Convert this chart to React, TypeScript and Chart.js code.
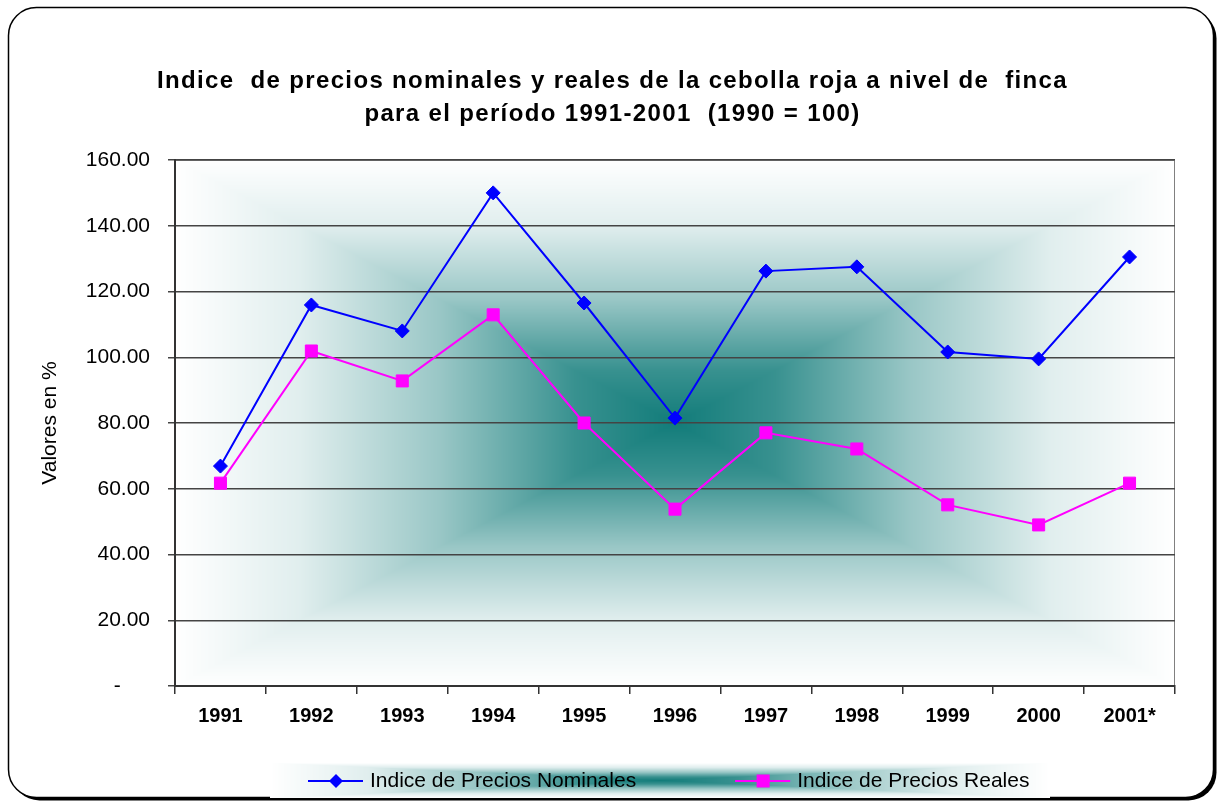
import React, { useEffect, useRef } from 'react';
import { Chart, registerables } from 'chart.js';

Chart.register(...registerables);

const categories = ['1991', '1992', '1993', '1994', '1995', '1996', '1997', '1998', '1999', '2000', '2001*'];
const nominales = [66.9, 115.9, 108.0, 150.0, 116.5, 81.5, 126.2, 127.5, 101.6, 99.5, 130.5];
const reales = [61.7, 101.9, 92.8, 112.9, 80.0, 53.8, 77.0, 72.1, 55.1, 49.0, 61.7];
const seriesNames = ['Indice de Precios Nominales', 'Indice de Precios Reales'];
const titleLines = [
  'Indice  de precios nominales y reales de la cebolla roja a nivel de  finca',
  'para el período 1991-2001  (1990 = 100)',
];
const yAxisTitle = 'Valores en %';
const yMin = 0;
const yMax = 160;
const yStep = 20;

const FONT = '"Liberation Sans", Arial, Helvetica, sans-serif';
const TEAL = [18, 124, 122];
const CURVE: number[][] = [[0, 0], [0.2, 0.16], [0.47, 0.57], [0.75, 0.87], [1, 1]];

function curveAt(t: number) {
  for (let i = 1; i < CURVE.length; i++) {
    if (t <= CURVE[i][0]) {
      const [t0, f0] = CURVE[i - 1];
      const [t1, f1] = CURVE[i];
      return f0 + ((t - t0) / (t1 - t0)) * (f1 - f0);
    }
  }
  return 1;
}

const gradCache: Record<string, HTMLCanvasElement> = {};
function pathGradient(w: number, h: number) {
  w = Math.max(1, Math.round(w));
  h = Math.max(1, Math.round(h));
  const key = w + 'x' + h;
  if (gradCache[key]) return gradCache[key];
  const c = document.createElement('canvas');
  c.width = w;
  c.height = h;
  const g = c.getContext('2d')!;
  const img = g.createImageData(w, h);
  const hw = w / 2;
  const hh = h / 2;
  for (let y = 0; y < h; y++) {
    const dy = Math.abs(y + 0.5 - hh) / hh;
    for (let x = 0; x < w; x++) {
      const dx = Math.abs(x + 0.5 - hw) / hw;
      const t = Math.min(1, Math.max(dx, dy));
      const f = curveAt(t);
      const i = (y * w + x) * 4;
      img.data[i] = TEAL[0] + (255 - TEAL[0]) * f;
      img.data[i + 1] = TEAL[1] + (255 - TEAL[1]) * f;
      img.data[i + 2] = TEAL[2] + (255 - TEAL[2]) * f;
      img.data[i + 3] = 255;
    }
  }
  g.putImageData(img, 0, 0);
  gradCache[key] = c;
  return c;
}

const LEGEND_Y = 781;
const LEGEND_BAND = { left: 270, right: 1050, top: 763, bottom: 798 };

const decor = {
  id: 'decor',
  afterLayout(chart: any) {
    const t = chart.titleBlock;
    if (t && !t._wrapped) {
      const orig = t.draw.bind(t);
      t.draw = (...args: any[]) => {
        const ctx = chart.ctx;
        ctx.save();
        (ctx as any).letterSpacing = '1.35px';
        ctx.translate(15, 0);
        orig(...args);
        ctx.restore();
      };
      t._wrapped = true;
    }
  },
  beforeDraw(chart: any) {
    const { ctx, chartArea: a } = chart;
    ctx.save();
    ctx.fillStyle = '#ffffff';
    ctx.fillRect(0, 0, chart.width, chart.height);
    // frame shadow + frame
    ctx.fillStyle = '#000000';
    ctx.beginPath();
    ctx.roundRect(11.5, 10.5, 1205, 790, 28);
    ctx.fill();
    ctx.fillStyle = '#ffffff';
    ctx.beginPath();
    ctx.roundRect(8.5, 7.5, 1205, 790, 28);
    ctx.fill();
    ctx.lineWidth = 1.5;
    ctx.strokeStyle = '#000000';
    ctx.stroke();
    // plot area background
    ctx.drawImage(pathGradient(a.width, a.height), a.left, a.top, a.width, a.height);
    ctx.strokeStyle = '#808080';
    ctx.lineWidth = 1;
    ctx.strokeRect(a.left + 0.5, a.top + 0.5, a.width - 1, a.height - 1);
    // legend band
    const lw = LEGEND_BAND.right - LEGEND_BAND.left;
    const lh = LEGEND_BAND.bottom - LEGEND_BAND.top;
    ctx.drawImage(pathGradient(lw, lh), LEGEND_BAND.left, LEGEND_BAND.top, lw, lh);
    ctx.restore();
  },
  afterDraw(chart: any) {
    const ctx = chart.ctx;
    ctx.save();
    ctx.font = '21px ' + FONT;
    ctx.textBaseline = 'middle';
    ctx.textAlign = 'left';
    let x = 308;
    chart.data.datasets.forEach((ds: any) => {
      const color = ds.borderColor;
      ctx.strokeStyle = color;
      ctx.lineWidth = 2;
      ctx.beginPath();
      ctx.moveTo(x, LEGEND_Y);
      ctx.lineTo(x + 55, LEGEND_Y);
      ctx.stroke();
      const mx = x + 28;
      ctx.fillStyle = color;
      ctx.beginPath();
      if (ds.pointStyle === 'rectRot') {
        const r = 7;
        ctx.moveTo(mx - r, LEGEND_Y);
        ctx.lineTo(mx, LEGEND_Y - r);
        ctx.lineTo(mx + r, LEGEND_Y);
        ctx.lineTo(mx, LEGEND_Y + r);
        ctx.closePath();
      } else {
        ctx.rect(mx - 6.5, LEGEND_Y - 6.5, 13, 13);
      }
      ctx.fill();
      ctx.fillStyle = '#000000';
      ctx.fillText(ds.label, x + 62, LEGEND_Y);
      const w = ctx.measureText(ds.label).width;
      x = x + 62 + w + 99;
    });
    ctx.restore();
  },
};

export default function App() {
  const ref = useRef<HTMLCanvasElement | null>(null);
  useEffect(() => {
    if (!ref.current) return;
    const chart = new Chart(ref.current, {
      type: 'line',
      data: {
        labels: categories,
        datasets: [
          {
            label: seriesNames[0],
            data: nominales,
            borderColor: '#0000ff',
            backgroundColor: '#0000ff',
            borderWidth: 2,
            pointStyle: 'rectRot',
            pointRadius: 7,
            pointBorderWidth: 1,
            pointBackgroundColor: '#0000ff',
            pointBorderColor: '#0000ff',
            tension: 0,
          },
          {
            label: seriesNames[1],
            data: reales,
            borderColor: '#ff00ff',
            backgroundColor: '#ff00ff',
            borderWidth: 2,
            pointStyle: 'rect',
            pointRadius: 8.5,
            pointBorderWidth: 1,
            pointBackgroundColor: '#ff00ff',
            pointBorderColor: '#ff00ff',
            tension: 0,
          },
        ],
      },
      options: {
        responsive: false,
        animation: false,
        events: [],
        layout: { padding: { left: 20, right: 45, top: 0, bottom: 67 } },
        plugins: {
          legend: { display: false },
          tooltip: { enabled: false },
          title: {
            display: true,
            text: titleLines,
            color: '#000000',
            font: { family: FONT, size: 24, weight: 'bold', lineHeight: 1.375 },
            padding: { top: 64.5, bottom: 29.5 },
          },
        },
        scales: {
          x: {
            type: 'category',
            offset: true,
            grid: {
              offset: true,
              drawOnChartArea: false,
              drawTicks: true,
              tickLength: 8,
              color: '#333333',
              lineWidth: 1.5,
            },
            border: { display: true, color: '#333333', width: 2 },
            ticks: {
              color: '#000000',
              font: { family: FONT, size: 20, weight: 'bold' },
              padding: 10,
              maxRotation: 0,
              autoSkip: false,
            },
            afterFit: (s: any) => {
              s.height = 50;
            },
          },
          y: {
            min: yMin,
            max: yMax,
            grid: {
              color: '#444444',
              lineWidth: 1.5,
              tickLength: 7,
              drawTicks: true,
            },
            border: { display: true, color: '#333333', width: 2 },
            ticks: {
              stepSize: yStep,
              color: '#000000',
              font: { family: FONT, size: 21 },
              padding: 18,
              callback: (v: any) => (Number(v) === 0 ? '-     ' : Number(v).toFixed(2)),
            },
            title: {
              display: true,
              text: yAxisTitle,
              color: '#000000',
              font: { family: FONT, size: 21 },
              padding: { top: 18, bottom: 0 },
            },
            afterFit: (s: any) => {
              s.width = 155;
            },
          },
        },
      },
      plugins: [decor],
    } as any);
    return () => chart.destroy();
  }, []);
  return (
    <div style={{ position: 'fixed', left: 0, top: 0, width: 1220, height: 803 }}>
      <canvas ref={ref} width={1220} height={803} style={{ display: 'block', width: 1220, height: 803 }} />
    </div>
  );
}
